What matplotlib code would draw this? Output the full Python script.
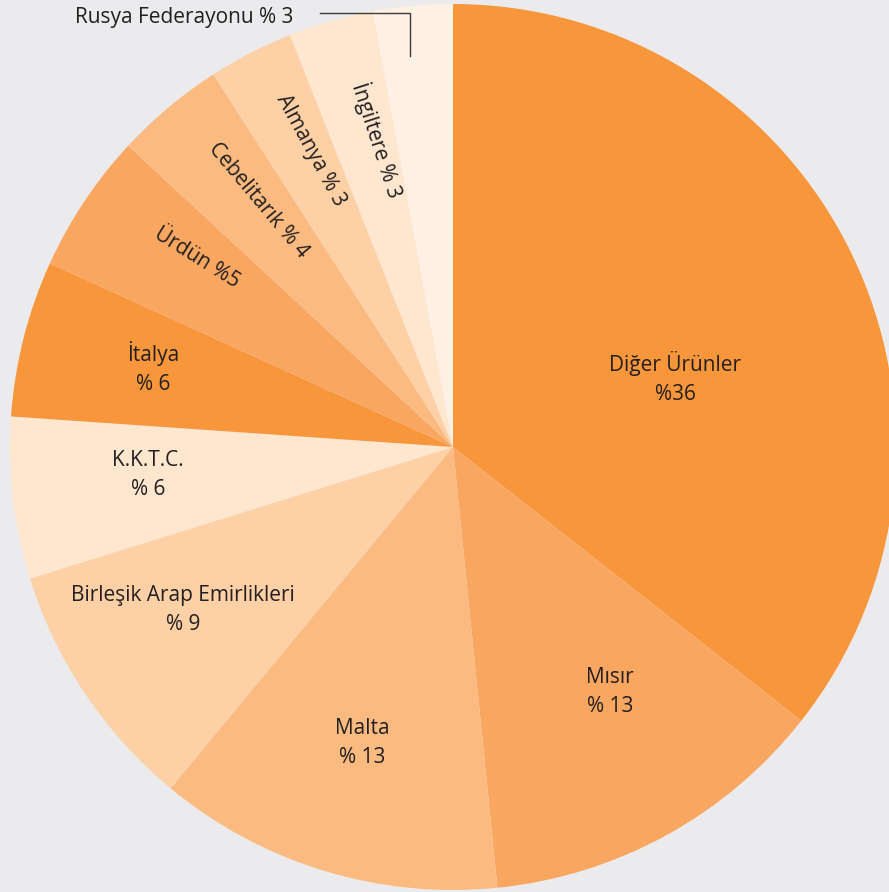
import matplotlib
matplotlib.use("Agg")
import matplotlib.pyplot as plt
import numpy as np

plt.rcParams['font.family'] = ['Open Sans', 'DejaVu Sans']

names = ["Diğer Ürünler\n%36", "Mısır\n% 13", "Malta\n% 13", "Birleşik Arap Emirlikleri\n% 9",
         "K.K.T.C.\n% 6", "İtalya\n% 6", "Ürdün %5", "Cebelitarık % 4", "Almanya % 3",
         "İngiltere % 3", "Rusya Federayonu % 3"]
shares = [35.6, 12.8, 12.6, 9.2, 5.9, 5.7, 5.1, 4.0, 3.1, 3.1, 2.9]
colors = ["#F7963A", "#F8A660", "#FBBB80", "#FDD0A5", "#FEE6CF", "#F7963A",
          "#F8A660", "#FBBB80", "#FDD0A5", "#FEE6CF", "#FEF1E4"]

W, H = 889, 892
cx, cy, R = 453, 447, 443
bg = "#EBEBED"

fig = plt.figure(figsize=(W / 100, H / 100), dpi=100, facecolor=bg)
ax = fig.add_axes([0, 0, 1, 1])
ax.set_facecolor(bg)
ax.pie(shares, colors=colors, startangle=90, counterclock=False, radius=1.0,
       wedgeprops=dict(linewidth=0))
ax.set_xlim(-cx / R, (W - cx) / R)
ax.set_ylim(-(H - cy) / R, cy / R)
ax.set_aspect('auto')
ax.axis('off')

def px(x, y):
    return (x - cx) / R, (cy - y) / R

tc = "#231F20"
fs = 15
# horizontal labels (pixel centres)
hpos = {0: (675, 378), 1: (610, 692), 2: (362, 743), 3: (183, 610), 4: (148, 475), 5: (153, 368)}
for i, (x, y) in hpos.items():
    X, Y = px(x, y)
    ax.text(X, Y, names[i], ha='center', va='center', fontsize=fs, color=tc, linespacing=1.45)

# rotated labels
rpos = {6: (197, 258, -32), 7: (258, 200, -50), 8: (311, 150, -61.5), 9: (377, 140, -72)}
for i, (x, y, rot) in rpos.items():
    X, Y = px(x, y)
    ax.text(X, Y, names[i], ha='center', va='center', fontsize=fs, color=tc,
            rotation=rot, rotation_mode='anchor')

# Rusya label with leader line
X, Y = px(184, 17)
ax.text(X, Y, names[10], ha='center', va='center', fontsize=fs, color=tc)
lx = [px(320, 13)[0], px(410, 13)[0], px(410, 56)[0]]
ly = [px(320, 13)[1], px(410, 13)[1], px(410, 56)[1]]
ax.plot(lx, ly, color="#3A3A3A", linewidth=1.0)

fig.savefig("out.png", dpi=100, facecolor=bg)
